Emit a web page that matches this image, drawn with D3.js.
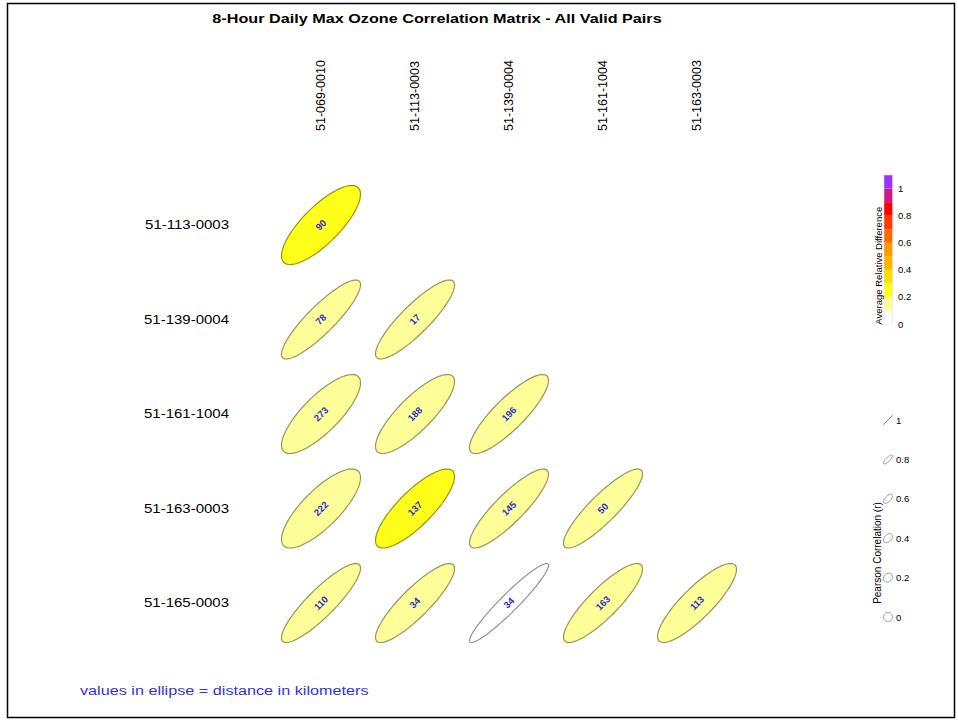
<!DOCTYPE html>
<html>
<head>
<meta charset="utf-8">
<script src="https://cdn.jsdelivr.net/npm/d3@7"></script>
<style>
  body { margin: 0; background: #fff; }
  svg { display: block; font-family: "Liberation Sans", Arial, sans-serif; }
</style>
</head>
<body>
<div id="chart"></div>
<script>
// site ids
const colSites = ['51-069-0010', '51-113-0003', '51-139-0004', '51-161-1004', '51-163-0003']
const rowSites = ['51-113-0003', '51-139-0004', '51-161-1004', '51-163-0003', '51-165-0003']

// lower triangle, row by row (null = no pair)
const pearsonR = [
  [0.78, null, null, null, null],
  [0.88, 0.87, null, null, null],
  [0.79, 0.82, 0.85, null, null],
  [0.78, 0.81, 0.87, 0.88, null],
  [0.88, 0.87, 0.95, 0.86, 0.85]
]
const avgRelDiff = [
  [0.25, null, null, null, null],
  [0.15, 0.15, null, null, null],
  [0.15, 0.15, 0.15, null, null],
  [0.15, 0.25, 0.15, 0.15, null],
  [0.15, 0.15, 0.05, 0.15, 0.15]
]
const distanceKm = [
  [90, null, null, null, null],
  [78, 17, null, null, null],
  [273, 188, 196, null, null],
  [222, 137, 145, 50, null],
  [110, 34, 34, 163, 113]
]

// colour bins for average relative difference (0 .. 1.1 by 0.1)
const ardBreaks = [0, 0.1, 0.2, 0.3, 0.4, 0.5, 0.6, 0.7, 0.8, 0.9, 1.0, 1.1]
const ardColors = ['#ffffff', '#ffff99', '#ffff1a', '#ffdd00', '#ffb300', '#ff9900',
  '#ff6a00', '#ff3c00', '#ff0000', '#cc1a88', '#9933ff']
const ardTicks = [0, 0.2, 0.4, 0.6, 0.8, 1]
const rLegend = [1, 0.8, 0.6, 0.4, 0.2, 0]

const width = 958
const height = 722
const stretch = 1.2 // horizontal text in the source is drawn wider

const svg = d3.select('#chart').append('svg')
  .attr('width', width)
  .attr('height', height)

svg.append('rect')
  .attr('x', 7.5).attr('y', 3.5)
  .attr('width', 947).attr('height', 714)
  .attr('fill', 'none').attr('stroke', '#000').attr('stroke-width', 1.5)

svg.append('text')
  .attr('transform', `translate(437,23) scale(${stretch},1)`)
  .attr('text-anchor', 'middle')
  .attr('font-size', 13.5).attr('font-weight', 'bold')
  .text('8-Hour Daily Max Ozone Correlation Matrix - All Valid Pairs')

const x = d3.scaleBand().domain(colSites).range([274, 744])
const y = d3.scaleBand().domain(rowSites).range([177.75, 650.25])
const color = d3.scaleThreshold().domain(ardBreaks.slice(1, -1)).range(ardColors)

// ellipse outline for correlation r, unit box [-1,1]
function ellipsePoints (r, s) {
  const d = Math.acos(Math.max(-1, Math.min(1, r)))
  return d3.range(0, 101).map(i => {
    const t = i / 100 * 2 * Math.PI
    return [s * Math.cos(t + d / 2), -s * Math.cos(t - d / 2)]
  })
}
const line = d3.line().curve(d3.curveLinearClosed)

// column labels
svg.append('g').selectAll('text')
  .data(colSites)
  .join('text')
  .attr('transform', d => `translate(${x(d) + x.bandwidth() / 2 + 4},131) rotate(-90)`)
  .attr('font-size', 12.5)
  .text(d => d)

// row labels
svg.append('g').selectAll('text')
  .data(rowSites)
  .join('text')
  .attr('transform', d => `translate(229,${y(d) + y.bandwidth() / 2 + 4}) scale(${stretch},1)`)
  .attr('text-anchor', 'end')
  .attr('font-size', 12.5)
  .text(d => d)

const cells = []
rowSites.forEach((rs, i) => {
  colSites.forEach((cs, j) => {
    if (pearsonR[i][j] == null) return
    cells.push({ row: rs, col: cs, r: pearsonR[i][j], ard: avgRelDiff[i][j], km: distanceKm[i][j] })
  })
})

const half = 39.5
const cell = svg.append('g').selectAll('g')
  .data(cells)
  .join('g')
  .attr('transform', d => `translate(${x(d.col) + x.bandwidth() / 2},${y(d.row) + y.bandwidth() / 2})`)

cell.append('path')
  .attr('d', d => line(ellipsePoints(d.r, half)))
  .attr('fill', d => color(d.ard))
  .attr('stroke', d => d3.color(color(d.ard)).darker(1.5))
  .attr('stroke-width', 1.2)

cell.append('text')
  .attr('transform', 'rotate(-45)')
  .attr('text-anchor', 'middle')
  .attr('dy', '0.35em')
  .attr('font-size', 9.5)
  .attr('font-weight', 'bold')
  .attr('fill', '#2b2bcc')
  .text(d => d.km)

// colour bar legend
const cy = d3.scaleLinear().domain([0, 1.1]).range([324, 175])
const bar = svg.append('g')
bar.selectAll('rect')
  .data(ardColors)
  .join('rect')
  .attr('x', 884)
  .attr('width', 8.5)
  .attr('y', (c, i) => cy(ardBreaks[i + 1]))
  .attr('height', (c, i) => cy(ardBreaks[i]) - cy(ardBreaks[i + 1]))
  .attr('fill', c => c)
bar.append('rect')
  .attr('x', 884).attr('y', cy(1.1)).attr('width', 8.5).attr('height', cy(0) - cy(1.1))
  .attr('fill', 'none').attr('stroke', '#ddd').attr('stroke-width', 0.5)
bar.selectAll('text.tick')
  .data(ardTicks)
  .join('text')
  .attr('class', 'tick')
  .attr('x', 898)
  .attr('y', d => cy(d) + 3.5)
  .attr('font-size', 9.5)
  .text(d => d)
bar.append('text')
  .attr('transform', `translate(882,${cy(0.43)}) rotate(-90)`)
  .attr('text-anchor', 'middle')
  .attr('font-size', 9.5)
  .text('Average Relative Difference')

// correlation shape legend
const ly = d3.scaleLinear().domain([0, 1]).range([617, 420])
const leg = svg.append('g')
const legItem = leg.selectAll('g')
  .data(rLegend)
  .join('g')
  .attr('transform', d => `translate(888,${ly(d)})`)
legItem.append('path')
  .attr('d', d => line(ellipsePoints(d, 4.5)))
  .attr('fill', 'none')
  .attr('stroke', '#777')
  .attr('stroke-width', 0.8)
legItem.append('text')
  .attr('x', 8)
  .attr('y', 3.5)
  .attr('font-size', 9.5)
  .text(d => d)
leg.append('text')
  .attr('transform', `translate(881,553) rotate(-90)`)
  .attr('text-anchor', 'middle')
  .attr('font-size', 10)
  .text('Pearson Correlation (r)')

svg.append('text')
  .attr('transform', `translate(80,695) scale(${stretch},1)`)
  .attr('font-size', 13.5)
  .attr('fill', '#3333dd')
  .text('values in ellipse = distance in kilometers')
</script>
</body>
</html>
